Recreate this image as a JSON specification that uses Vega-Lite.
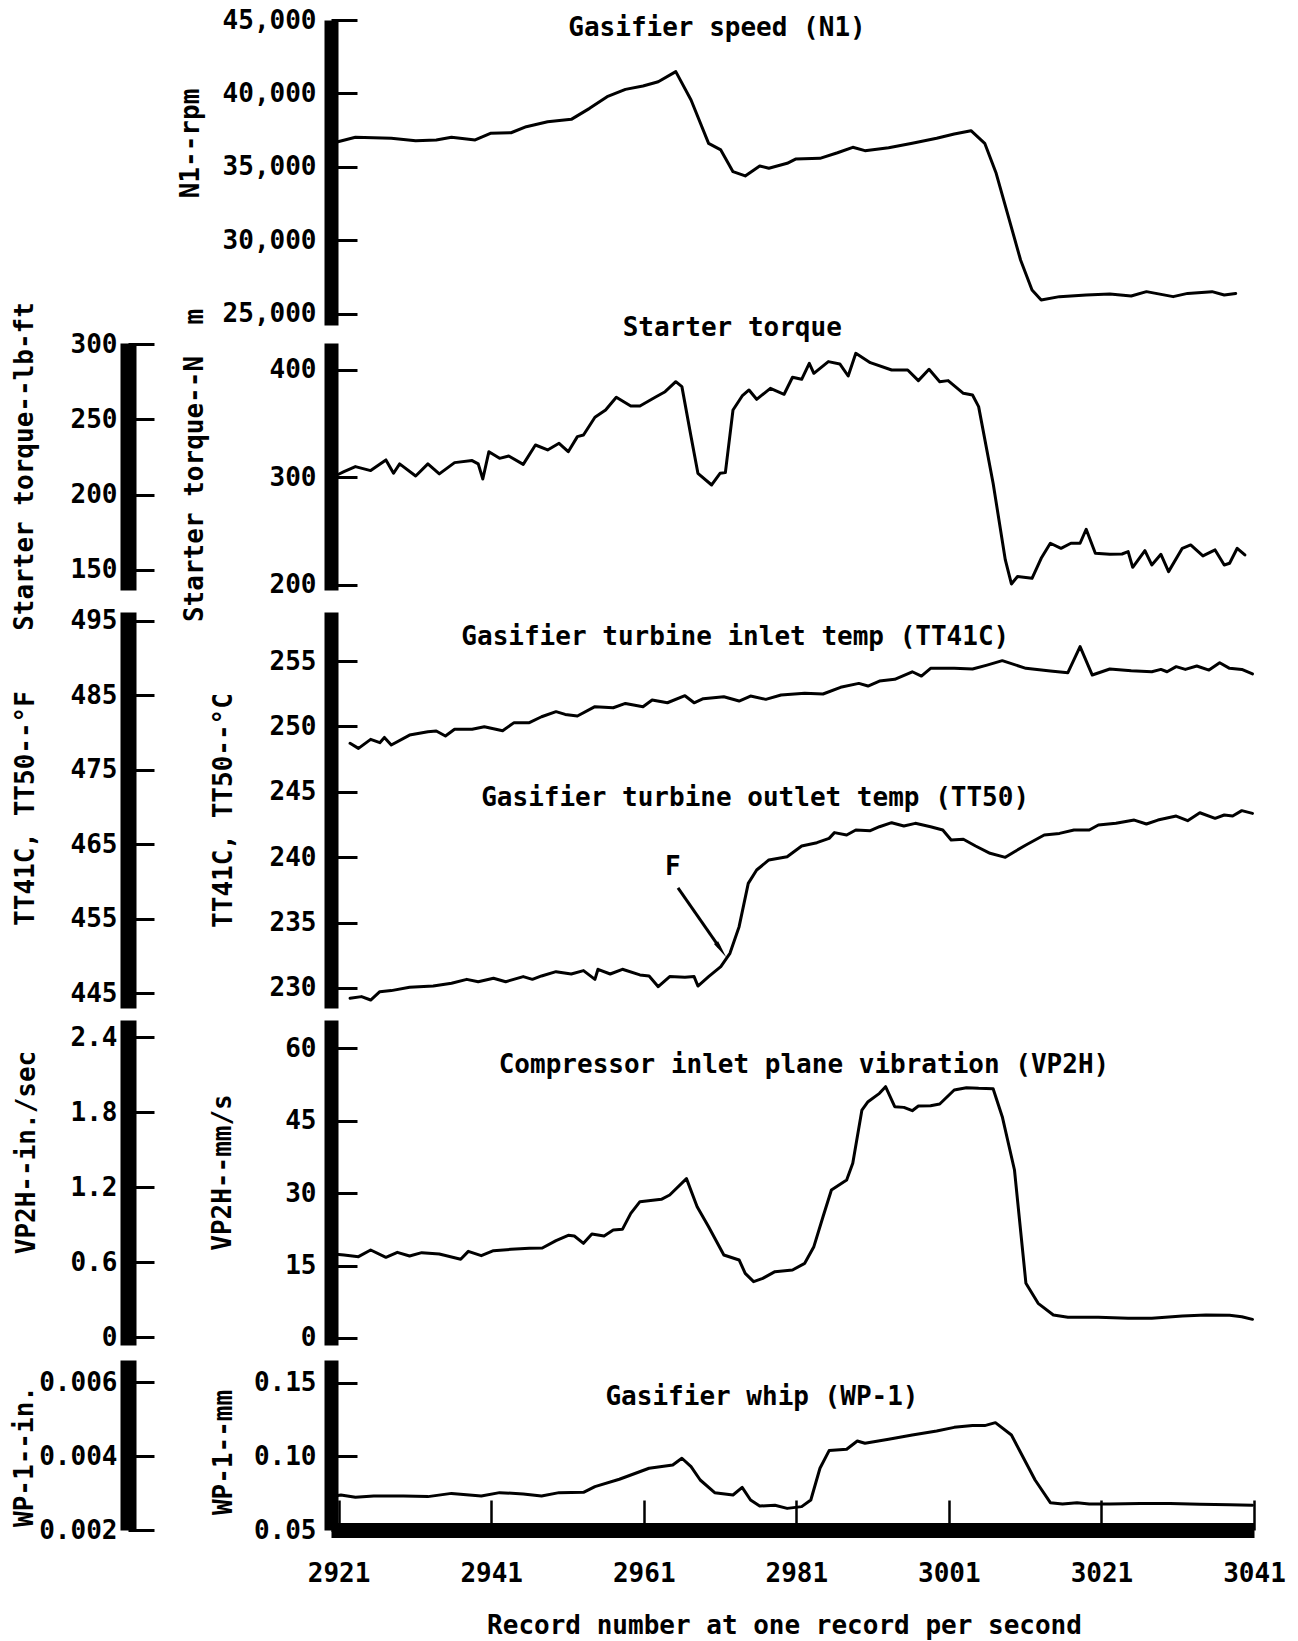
{
  "$schema": "https://vega.github.io/schema/vega-lite/v6.json",
  "width": 923,
  "height": 1510,
  "autosize": {"type": "none"},
  "padding": {"left": 331, "top": 20, "right": 44, "bottom": 111},
  "background": "white",
  "config": {
    "view": {"stroke": null},
    "font": "DejaVu Sans Mono",
    "line": {"color": "black", "strokeWidth": 3, "strokeJoin": "round", "strokeCap": "round"},
    "text": {"font": "DejaVu Sans Mono", "fontSize": 26, "fontWeight": "bold", "color": "black", "align": "center", "baseline": "middle"},
    "axis": {
      "grid": false, "domainColor": "black", "tickColor": "black",
      "labelColor": "black", "titleColor": "black",
      "labelFont": "DejaVu Sans Mono", "titleFont": "DejaVu Sans Mono",
      "labelFontSize": 26, "titleFontSize": 26,
      "labelFontWeight": "bold", "titleFontWeight": "bold",
      "labelOverlap": false, "labelFlush": false, "labelBound": false
    },
    "axisY": {"domainWidth": 14, "tickSize": -26, "tickWidth": 3, "labelPadding": 41,
              "titleAngle": 270, "titleAlign": "center", "titleBaseline": "middle"},
    "axisX": {"domainWidth": 15, "tickSize": -30, "tickWidth": 2.5, "labelPadding": 73,
              "labelBaseline": "middle", "titleAngle": 0, "titleAlign": "center", "titleBaseline": "middle"}
  },
  "datasets": {
    "n1": [
      {"rec": 2920.9, "rpm": 36720}, {"rec": 2923.2, "rpm": 37020}, {"rec": 2927.9, "rpm": 36950},
      {"rec": 2931.1, "rpm": 36790}, {"rec": 2933.8, "rpm": 36840}, {"rec": 2935.8, "rpm": 37020},
      {"rec": 2938.9, "rpm": 36840}, {"rec": 2940.9, "rpm": 37290}, {"rec": 2943.6, "rpm": 37330},
      {"rec": 2945.6, "rpm": 37740}, {"rec": 2948.4, "rpm": 38080}, {"rec": 2951.5, "rpm": 38240},
      {"rec": 2953.9, "rpm": 38990}, {"rec": 2956.2, "rpm": 39780}, {"rec": 2958.6, "rpm": 40280},
      {"rec": 2960.9, "rpm": 40510}, {"rec": 2962.9, "rpm": 40800}, {"rec": 2965.2, "rpm": 41490},
      {"rec": 2967.2, "rpm": 39560}, {"rec": 2969.5, "rpm": 36610}, {"rec": 2971.1, "rpm": 36160},
      {"rec": 2972.7, "rpm": 34680}, {"rec": 2974.3, "rpm": 34390}, {"rec": 2976.2, "rpm": 35070},
      {"rec": 2977.4, "rpm": 34910}, {"rec": 2979.8, "rpm": 35250}, {"rec": 2980.9, "rpm": 35540},
      {"rec": 2984.1, "rpm": 35590}, {"rec": 2986.4, "rpm": 35970}, {"rec": 2988.4, "rpm": 36340},
      {"rec": 2990.0, "rpm": 36110}, {"rec": 2993.1, "rpm": 36310}, {"rec": 2996.2, "rpm": 36610},
      {"rec": 2999.4, "rpm": 36950}, {"rec": 3001.7, "rpm": 37240}, {"rec": 3003.9, "rpm": 37470},
      {"rec": 3005.7, "rpm": 36610}, {"rec": 3007.2, "rpm": 34570}, {"rec": 3008.8, "rpm": 31620},
      {"rec": 3010.4, "rpm": 28670}, {"rec": 3011.9, "rpm": 26630}, {"rec": 3013.1, "rpm": 25950},
      {"rec": 3015.5, "rpm": 26180}, {"rec": 3019.0, "rpm": 26290}, {"rec": 3022.1, "rpm": 26360},
      {"rec": 3024.9, "rpm": 26220}, {"rec": 3026.9, "rpm": 26520}, {"rec": 3030.4, "rpm": 26180},
      {"rec": 3032.3, "rpm": 26400}, {"rec": 3035.5, "rpm": 26520}, {"rec": 3037.1, "rpm": 26290},
      {"rec": 3038.6, "rpm": 26400}
    ],
    "torque": [
      {"rec": 2921.0, "nm": 303.0}, {"rec": 2921.7, "nm": 305.4}, {"rec": 2923.2, "nm": 310.1}, {"rec": 2925.2, "nm": 306.4},
      {"rec": 2927.2, "nm": 316.3}, {"rec": 2928.2, "nm": 303.9}, {"rec": 2929.0, "nm": 312.6}, {"rec": 2931.1, "nm": 301.4},
      {"rec": 2932.7, "nm": 312.6}, {"rec": 2934.2, "nm": 303.3}, {"rec": 2936.2, "nm": 313.8}, {"rec": 2938.5, "nm": 315.7},
      {"rec": 2939.3, "nm": 312.6}, {"rec": 2939.9, "nm": 298.6}, {"rec": 2940.7, "nm": 324.0}, {"rec": 2942.1, "nm": 317.8},
      {"rec": 2943.3, "nm": 320.0}, {"rec": 2945.2, "nm": 312.2}, {"rec": 2946.8, "nm": 330.2}, {"rec": 2948.4, "nm": 325.6},
      {"rec": 2949.9, "nm": 331.8}, {"rec": 2951.1, "nm": 324.0}, {"rec": 2952.3, "nm": 338.0}, {"rec": 2953.1, "nm": 339.5},
      {"rec": 2954.6, "nm": 356.0}, {"rec": 2956.0, "nm": 362.8}, {"rec": 2957.4, "nm": 374.6}, {"rec": 2959.3, "nm": 366.5},
      {"rec": 2960.5, "nm": 366.5}, {"rec": 2962.5, "nm": 374.6}, {"rec": 2963.8, "nm": 379.8}, {"rec": 2965.2, "nm": 389.1},
      {"rec": 2966.0, "nm": 384.5}, {"rec": 2967.2, "nm": 338.0}, {"rec": 2968.1, "nm": 303.9}, {"rec": 2969.9, "nm": 293.0},
      {"rec": 2971.0, "nm": 303.9}, {"rec": 2971.7, "nm": 304.5}, {"rec": 2972.7, "nm": 362.8}, {"rec": 2973.9, "nm": 375.8},
      {"rec": 2974.8, "nm": 381.4}, {"rec": 2975.8, "nm": 372.7}, {"rec": 2977.6, "nm": 382.9}, {"rec": 2979.4, "nm": 377.4},
      {"rec": 2980.5, "nm": 393.2}, {"rec": 2981.7, "nm": 391.3}, {"rec": 2982.7, "nm": 406.2}, {"rec": 2983.3, "nm": 396.9},
      {"rec": 2985.2, "nm": 407.8}, {"rec": 2986.7, "nm": 405.6}, {"rec": 2987.8, "nm": 394.4}, {"rec": 2988.8, "nm": 415.5},
      {"rec": 2990.7, "nm": 406.8}, {"rec": 2993.5, "nm": 400.0}, {"rec": 2995.6, "nm": 400.0}, {"rec": 2997.0, "nm": 390.1},
      {"rec": 2998.4, "nm": 400.6}, {"rec": 2999.8, "nm": 389.1}, {"rec": 3000.9, "nm": 390.1}, {"rec": 3002.9, "nm": 378.3},
      {"rec": 3004.1, "nm": 376.7}, {"rec": 3004.9, "nm": 365.9}, {"rec": 3006.8, "nm": 294.6}, {"rec": 3008.4, "nm": 223.3},
      {"rec": 3009.2, "nm": 200.9}, {"rec": 3010.0, "nm": 207.8}, {"rec": 3011.9, "nm": 206.2}, {"rec": 3013.1, "nm": 224.8},
      {"rec": 3014.3, "nm": 238.8}, {"rec": 3015.7, "nm": 234.1}, {"rec": 3017.0, "nm": 238.8}, {"rec": 3018.2, "nm": 238.8},
      {"rec": 3019.0, "nm": 251.8}, {"rec": 3020.2, "nm": 229.5}, {"rec": 3022.1, "nm": 228.5}, {"rec": 3023.7, "nm": 228.8},
      {"rec": 3024.5, "nm": 231.0}, {"rec": 3025.1, "nm": 216.4}, {"rec": 3026.7, "nm": 231.9}, {"rec": 3027.6, "nm": 218.6},
      {"rec": 3028.8, "nm": 228.5}, {"rec": 3029.8, "nm": 212.4}, {"rec": 3031.6, "nm": 234.1}, {"rec": 3032.7, "nm": 237.2},
      {"rec": 3034.3, "nm": 227.0}, {"rec": 3035.9, "nm": 232.6}, {"rec": 3037.1, "nm": 218.6}, {"rec": 3037.8, "nm": 220.2},
      {"rec": 3038.8, "nm": 234.1}, {"rec": 3039.8, "nm": 227.9}
    ],
    "temps": [
      {"rec": 2922.5, "s": "TT41C", "c": 248.71}, {"rec": 2923.6, "s": "TT41C", "c": 248.32}, {"rec": 2925.2, "s": "TT41C", "c": 249.01},
      {"rec": 2926.4, "s": "TT41C", "c": 248.76}, {"rec": 2927.0, "s": "TT41C", "c": 249.16}, {"rec": 2927.9, "s": "TT41C", "c": 248.58},
      {"rec": 2930.3, "s": "TT41C", "c": 249.34}, {"rec": 2932.7, "s": "TT41C", "c": 249.60}, {"rec": 2933.8, "s": "TT41C", "c": 249.65},
      {"rec": 2935.0, "s": "TT41C", "c": 249.27}, {"rec": 2936.2, "s": "TT41C", "c": 249.78}, {"rec": 2938.5, "s": "TT41C", "c": 249.78},
      {"rec": 2940.1, "s": "TT41C", "c": 249.98}, {"rec": 2942.5, "s": "TT41C", "c": 249.67}, {"rec": 2944.0, "s": "TT41C", "c": 250.29},
      {"rec": 2946.0, "s": "TT41C", "c": 250.29}, {"rec": 2947.6, "s": "TT41C", "c": 250.74}, {"rec": 2949.5, "s": "TT41C", "c": 251.13},
      {"rec": 2950.7, "s": "TT41C", "c": 250.92}, {"rec": 2952.3, "s": "TT41C", "c": 250.80}, {"rec": 2954.6, "s": "TT41C", "c": 251.51},
      {"rec": 2957.0, "s": "TT41C", "c": 251.43}, {"rec": 2958.6, "s": "TT41C", "c": 251.76}, {"rec": 2960.9, "s": "TT41C", "c": 251.51},
      {"rec": 2962.1, "s": "TT41C", "c": 252.02}, {"rec": 2964.1, "s": "TT41C", "c": 251.81}, {"rec": 2966.4, "s": "TT41C", "c": 252.35},
      {"rec": 2967.6, "s": "TT41C", "c": 251.81}, {"rec": 2968.8, "s": "TT41C", "c": 252.12}, {"rec": 2971.5, "s": "TT41C", "c": 252.27},
      {"rec": 2973.5, "s": "TT41C", "c": 251.94}, {"rec": 2975.0, "s": "TT41C", "c": 252.32}, {"rec": 2977.0, "s": "TT41C", "c": 252.07},
      {"rec": 2979.0, "s": "TT41C", "c": 252.40}, {"rec": 2982.1, "s": "TT41C", "c": 252.53}, {"rec": 2984.5, "s": "TT41C", "c": 252.48},
      {"rec": 2986.8, "s": "TT41C", "c": 252.99}, {"rec": 2989.2, "s": "TT41C", "c": 253.29}, {"rec": 2990.4, "s": "TT41C", "c": 253.09},
      {"rec": 2991.9, "s": "TT41C", "c": 253.47}, {"rec": 2993.9, "s": "TT41C", "c": 253.60}, {"rec": 2996.2, "s": "TT41C", "c": 254.18},
      {"rec": 2997.4, "s": "TT41C", "c": 253.85}, {"rec": 2998.6, "s": "TT41C", "c": 254.44}, {"rec": 3001.7, "s": "TT41C", "c": 254.44},
      {"rec": 3004.1, "s": "TT41C", "c": 254.39}, {"rec": 3006.0, "s": "TT41C", "c": 254.69}, {"rec": 3008.0, "s": "TT41C", "c": 255.03},
      {"rec": 3011.1, "s": "TT41C", "c": 254.44}, {"rec": 3014.3, "s": "TT41C", "c": 254.24}, {"rec": 3016.6, "s": "TT41C", "c": 254.11},
      {"rec": 3018.2, "s": "TT41C", "c": 256.10}, {"rec": 3019.8, "s": "TT41C", "c": 253.93}, {"rec": 3022.1, "s": "TT41C", "c": 254.39},
      {"rec": 3024.9, "s": "TT41C", "c": 254.26}, {"rec": 3027.6, "s": "TT41C", "c": 254.18}, {"rec": 3028.8, "s": "TT41C", "c": 254.36},
      {"rec": 3029.6, "s": "TT41C", "c": 254.18}, {"rec": 3030.8, "s": "TT41C", "c": 254.57}, {"rec": 3032.0, "s": "TT41C", "c": 254.36},
      {"rec": 3033.5, "s": "TT41C", "c": 254.62}, {"rec": 3035.1, "s": "TT41C", "c": 254.31}, {"rec": 3036.5, "s": "TT41C", "c": 254.87},
      {"rec": 3037.8, "s": "TT41C", "c": 254.44}, {"rec": 3039.4, "s": "TT41C", "c": 254.36}, {"rec": 3040.8, "s": "TT41C", "c": 254.01},
      {"rec": 2922.5, "s": "TT50", "c": 229.21}, {"rec": 2924.0, "s": "TT50", "c": 229.34}, {"rec": 2925.2, "s": "TT50", "c": 229.08},
      {"rec": 2926.4, "s": "TT50", "c": 229.72}, {"rec": 2927.9, "s": "TT50", "c": 229.80}, {"rec": 2930.3, "s": "TT50", "c": 230.05},
      {"rec": 2933.4, "s": "TT50", "c": 230.15}, {"rec": 2935.8, "s": "TT50", "c": 230.36}, {"rec": 2937.8, "s": "TT50", "c": 230.66},
      {"rec": 2939.3, "s": "TT50", "c": 230.48}, {"rec": 2941.3, "s": "TT50", "c": 230.74}, {"rec": 2942.9, "s": "TT50", "c": 230.48},
      {"rec": 2945.2, "s": "TT50", "c": 230.87}, {"rec": 2946.4, "s": "TT50", "c": 230.66}, {"rec": 2947.6, "s": "TT50", "c": 230.92},
      {"rec": 2949.5, "s": "TT50", "c": 231.25}, {"rec": 2951.5, "s": "TT50", "c": 231.07}, {"rec": 2953.1, "s": "TT50", "c": 231.33},
      {"rec": 2954.6, "s": "TT50", "c": 230.66}, {"rec": 2955.0, "s": "TT50", "c": 231.43}, {"rec": 2956.6, "s": "TT50", "c": 231.07},
      {"rec": 2958.2, "s": "TT50", "c": 231.43}, {"rec": 2960.5, "s": "TT50", "c": 231.00}, {"rec": 2961.7, "s": "TT50", "c": 230.92},
      {"rec": 2962.9, "s": "TT50", "c": 230.10}, {"rec": 2964.4, "s": "TT50", "c": 230.87}, {"rec": 2966.4, "s": "TT50", "c": 230.82},
      {"rec": 2967.6, "s": "TT50", "c": 230.87}, {"rec": 2968.1, "s": "TT50", "c": 230.15}, {"rec": 2969.5, "s": "TT50", "c": 230.87},
      {"rec": 2971.1, "s": "TT50", "c": 231.63}, {"rec": 2972.3, "s": "TT50", "c": 232.65}, {"rec": 2973.5, "s": "TT50", "c": 234.69},
      {"rec": 2974.7, "s": "TT50", "c": 238.00}, {"rec": 2975.8, "s": "TT50", "c": 239.02}, {"rec": 2977.4, "s": "TT50", "c": 239.79},
      {"rec": 2979.8, "s": "TT50", "c": 240.04}, {"rec": 2981.7, "s": "TT50", "c": 240.86}, {"rec": 2983.7, "s": "TT50", "c": 241.11},
      {"rec": 2985.3, "s": "TT50", "c": 241.44}, {"rec": 2986.0, "s": "TT50", "c": 241.88}, {"rec": 2987.6, "s": "TT50", "c": 241.70},
      {"rec": 2988.8, "s": "TT50", "c": 242.08}, {"rec": 2990.7, "s": "TT50", "c": 242.03}, {"rec": 2991.9, "s": "TT50", "c": 242.33},
      {"rec": 2993.5, "s": "TT50", "c": 242.64}, {"rec": 2995.1, "s": "TT50", "c": 242.39}, {"rec": 2996.6, "s": "TT50", "c": 242.59},
      {"rec": 2998.6, "s": "TT50", "c": 242.33}, {"rec": 3000.2, "s": "TT50", "c": 242.08}, {"rec": 3001.3, "s": "TT50", "c": 241.32},
      {"rec": 3002.9, "s": "TT50", "c": 241.37}, {"rec": 3004.5, "s": "TT50", "c": 240.86}, {"rec": 3006.4, "s": "TT50", "c": 240.30},
      {"rec": 3008.4, "s": "TT50", "c": 239.99}, {"rec": 3009.6, "s": "TT50", "c": 240.42}, {"rec": 3011.1, "s": "TT50", "c": 240.93},
      {"rec": 3013.5, "s": "TT50", "c": 241.70}, {"rec": 3015.5, "s": "TT50", "c": 241.82}, {"rec": 3017.4, "s": "TT50", "c": 242.08},
      {"rec": 3019.4, "s": "TT50", "c": 242.08}, {"rec": 3020.6, "s": "TT50", "c": 242.46}, {"rec": 3022.9, "s": "TT50", "c": 242.59},
      {"rec": 3025.3, "s": "TT50", "c": 242.84}, {"rec": 3026.9, "s": "TT50", "c": 242.54}, {"rec": 3028.4, "s": "TT50", "c": 242.84},
      {"rec": 3030.8, "s": "TT50", "c": 243.15}, {"rec": 3032.3, "s": "TT50", "c": 242.79}, {"rec": 3033.9, "s": "TT50", "c": 243.40},
      {"rec": 3035.9, "s": "TT50", "c": 242.97}, {"rec": 3037.1, "s": "TT50", "c": 243.23}, {"rec": 3038.2, "s": "TT50", "c": 243.15},
      {"rec": 3039.4, "s": "TT50", "c": 243.56}, {"rec": 3040.8, "s": "TT50", "c": 243.35}
    ],
    "vp2h": [
      {"rec": 2921.0, "mms": 17.3}, {"rec": 2921.7, "mms": 17.17}, {"rec": 2923.6, "mms": 16.83}, {"rec": 2925.2, "mms": 18.21},
      {"rec": 2927.2, "mms": 16.69}, {"rec": 2928.7, "mms": 17.72}, {"rec": 2930.3, "mms": 16.97}, {"rec": 2931.9, "mms": 17.66},
      {"rec": 2934.2, "mms": 17.38}, {"rec": 2937.0, "mms": 16.28}, {"rec": 2938.0, "mms": 17.93}, {"rec": 2939.7, "mms": 17.03},
      {"rec": 2941.3, "mms": 18.07}, {"rec": 2943.6, "mms": 18.34}, {"rec": 2946.0, "mms": 18.55}, {"rec": 2947.7, "mms": 18.62},
      {"rec": 2949.5, "mms": 20.14}, {"rec": 2951.1, "mms": 21.24}, {"rec": 2951.9, "mms": 21.10}, {"rec": 2953.1, "mms": 19.59},
      {"rec": 2954.2, "mms": 21.52}, {"rec": 2955.8, "mms": 21.10}, {"rec": 2957.0, "mms": 22.34}, {"rec": 2958.2, "mms": 22.48},
      {"rec": 2959.3, "mms": 25.79}, {"rec": 2960.5, "mms": 28.21}, {"rec": 2963.3, "mms": 28.69}, {"rec": 2964.4, "mms": 29.59},
      {"rec": 2966.6, "mms": 32.97}, {"rec": 2968.0, "mms": 27.17}, {"rec": 2969.5, "mms": 23.03}, {"rec": 2971.5, "mms": 17.17},
      {"rec": 2973.5, "mms": 16.14}, {"rec": 2974.3, "mms": 13.38}, {"rec": 2975.4, "mms": 11.66}, {"rec": 2976.6, "mms": 12.34},
      {"rec": 2978.2, "mms": 13.72}, {"rec": 2980.5, "mms": 14.07}, {"rec": 2982.1, "mms": 15.45}, {"rec": 2983.3, "mms": 18.90},
      {"rec": 2984.5, "mms": 25.10}, {"rec": 2985.6, "mms": 30.62}, {"rec": 2987.6, "mms": 32.69}, {"rec": 2988.4, "mms": 36.14},
      {"rec": 2989.6, "mms": 47.17}, {"rec": 2990.4, "mms": 48.90}, {"rec": 2991.9, "mms": 50.62}, {"rec": 2992.7, "mms": 52.00},
      {"rec": 2993.9, "mms": 47.86}, {"rec": 2995.1, "mms": 47.72}, {"rec": 2996.2, "mms": 47.03}, {"rec": 2997.0, "mms": 48.00},
      {"rec": 2998.6, "mms": 48.07}, {"rec": 2999.8, "mms": 48.41}, {"rec": 3001.7, "mms": 51.31}, {"rec": 3003.3, "mms": 51.79},
      {"rec": 3004.9, "mms": 51.66}, {"rec": 3006.8, "mms": 51.59}, {"rec": 3008.0, "mms": 45.79}, {"rec": 3009.6, "mms": 34.76},
      {"rec": 3011.1, "mms": 11.31}, {"rec": 3012.7, "mms": 7.17}, {"rec": 3014.7, "mms": 4.76}, {"rec": 3016.6, "mms": 4.28},
      {"rec": 3020.6, "mms": 4.28}, {"rec": 3024.5, "mms": 4.07}, {"rec": 3027.6, "mms": 4.07}, {"rec": 3031.6, "mms": 4.55},
      {"rec": 3034.7, "mms": 4.76}, {"rec": 3037.8, "mms": 4.69}, {"rec": 3039.4, "mms": 4.41}, {"rec": 3040.8, "mms": 3.86}
    ],
    "wp1": [
      {"rec": 2920.9, "mm": 0.0735}, {"rec": 2921.3, "mm": 0.0738}, {"rec": 2923.2, "mm": 0.0722}, {"rec": 2925.6, "mm": 0.0731},
      {"rec": 2929.5, "mm": 0.0731}, {"rec": 2932.7, "mm": 0.0727}, {"rec": 2935.8, "mm": 0.0749}, {"rec": 2939.7, "mm": 0.0731},
      {"rec": 2942.1, "mm": 0.0754}, {"rec": 2945.2, "mm": 0.0745}, {"rec": 2947.6, "mm": 0.0731}, {"rec": 2949.9, "mm": 0.0754},
      {"rec": 2953.1, "mm": 0.0756}, {"rec": 2954.6, "mm": 0.0795}, {"rec": 2957.8, "mm": 0.0845}, {"rec": 2961.7, "mm": 0.0920},
      {"rec": 2964.8, "mm": 0.0942}, {"rec": 2966.0, "mm": 0.0988}, {"rec": 2967.2, "mm": 0.0931}, {"rec": 2968.4, "mm": 0.0840},
      {"rec": 2970.3, "mm": 0.0754}, {"rec": 2972.7, "mm": 0.0738}, {"rec": 2973.9, "mm": 0.0790}, {"rec": 2975.0, "mm": 0.0704},
      {"rec": 2976.2, "mm": 0.0663}, {"rec": 2978.2, "mm": 0.0668}, {"rec": 2979.8, "mm": 0.0647}, {"rec": 2981.7, "mm": 0.0659},
      {"rec": 2982.9, "mm": 0.0704}, {"rec": 2984.1, "mm": 0.0920}, {"rec": 2985.3, "mm": 0.1040}, {"rec": 2987.6, "mm": 0.1049},
      {"rec": 2989.0, "mm": 0.1105}, {"rec": 2990.0, "mm": 0.1090}, {"rec": 2993.1, "mm": 0.1117}, {"rec": 2996.2, "mm": 0.1146},
      {"rec": 2999.4, "mm": 0.1173}, {"rec": 3001.7, "mm": 0.1198}, {"rec": 3004.1, "mm": 0.1210}, {"rec": 3005.7, "mm": 0.1210},
      {"rec": 3007.1, "mm": 0.1230}, {"rec": 3009.2, "mm": 0.1146}, {"rec": 3010.8, "mm": 0.0988}, {"rec": 3012.3, "mm": 0.0840},
      {"rec": 3014.3, "mm": 0.0686}, {"rec": 3015.9, "mm": 0.0677}, {"rec": 3017.8, "mm": 0.0686}, {"rec": 3019.4, "mm": 0.0677},
      {"rec": 3022.1, "mm": 0.0677}, {"rec": 3026.1, "mm": 0.0681}, {"rec": 3030.0, "mm": 0.0681}, {"rec": 3033.9, "mm": 0.0675},
      {"rec": 3037.8, "mm": 0.0672}, {"rec": 3040.8, "mm": 0.0668}
    ],
    "one": [{}]
  },
  "resolve": {"scale": {"y": "independent"}, "axis": {"y": "independent"}},
  "layer": [
    {
      "data": {"name": "n1"},
      "mark": {"type": "line"},
      "encoding": {
        "x": {"field": "rec", "type": "quantitative", "scale": {"domain": [2920, 3041], "nice": false, "zero": false},
              "axis": {"orient": "bottom", "values": [2921, 2941, 2961, 2981, 3001, 3021, 3041], "format": "d", "title": "Record number at one record per second", "titleX": 453, "titleY": 95}},
        "y": {"field": "rpm", "type": "quantitative",
              "scale": {"domain": [24250, 45000], "range": [305, 0], "nice": false, "zero": false},
              "axis": {"orient": "left", "values": [25000, 30000, 35000, 40000, 45000], "format": ",d",
                       "title": "N1--rpm", "titleX": -141, "titleY": 123}}
      }
    },
    {
      "data": {"name": "one"},
      "mark": {"type": "text"},
      "encoding": {
        "x": {"datum": 2970.6, "type": "quantitative", "scale": {"domain": [2920, 3041], "nice": false, "zero": false},
              "axis": {"orient": "bottom", "values": [2921, 2941, 2961, 2981, 3001, 3021, 3041], "format": "d", "title": "Record number at one record per second", "titleX": 453, "titleY": 95}},
        "y": {"datum": 44456, "type": "quantitative", "scale": {"domain": [24250, 45000], "range": [305, 0], "nice": false, "zero": false}, "axis": null},
        "text": {"value": "Gasifier speed (N1)"}
      }
    },
    {
      "data": {"name": "torque"},
      "mark": {"type": "line"},
      "encoding": {
        "x": {"field": "rec", "type": "quantitative", "scale": {"domain": [2920, 3041], "nice": false, "zero": false},
              "axis": {"orient": "bottom", "values": [2921, 2941, 2961, 2981, 3001, 3021, 3041], "format": "d", "title": "Record number at one record per second", "titleX": 453, "titleY": 95}},
        "y": {"field": "nm", "type": "quantitative",
              "scale": {"domain": [195.3, 425.1], "range": [570, 323], "nice": false, "zero": false},
              "axis": {"orient": "left", "values": [200, 300, 400], "format": "d",
                       "title": "Starter torque--N\u00a0\u00a0m", "titleX": -137, "titleY": 445}}
      }
    },
    {
      "data": {"name": "one"},
      "mark": {"type": "text"},
      "encoding": {
        "x": {"datum": 2972.6, "type": "quantitative", "scale": {"domain": [2920, 3041], "nice": false, "zero": false},
              "axis": {"orient": "bottom", "values": [2921, 2941, 2961, 2981, 3001, 3021, 3041], "format": "d", "title": "Record number at one record per second", "titleX": 453, "titleY": 95}},
        "y": {"datum": 439.1, "type": "quantitative", "scale": {"domain": [195.3, 425.1], "range": [570, 323], "nice": false, "zero": false}, "axis": null},
        "text": {"value": "Starter torque"}
      }
    },
    {
      "data": {"values": [{"lbft": 150}, {"lbft": 300}]},
      "mark": {"type": "point", "opacity": 0},
      "encoding": {
        "y": {"field": "lbft", "type": "quantitative",
              "scale": {"domain": [136.7, 300.7], "range": [570, 323], "nice": false, "zero": false},
              "axis": {"orient": "left", "offset": 203, "values": [150, 200, 250, 300], "format": "d",
                       "labelPadding": 37, "domainWidth": 16,
                       "title": "Starter torque--lb-ft", "titleX": -104, "titleY": 446}}
      }
    },
    {
      "data": {"name": "temps"},
      "mark": {"type": "line"},
      "encoding": {
        "x": {"field": "rec", "type": "quantitative", "scale": {"domain": [2920, 3041], "nice": false, "zero": false},
              "axis": {"orient": "bottom", "values": [2921, 2941, 2961, 2981, 3001, 3021, 3041], "format": "d", "title": "Record number at one record per second", "titleX": 453, "titleY": 95}},
        "y": {"field": "c", "type": "quantitative",
              "scale": {"domain": [228.47, 258.75], "range": [988, 592], "nice": false, "zero": false},
              "axis": {"orient": "left", "values": [230, 235, 240, 245, 250, 255], "format": "d",
                       "title": "TT41C, TT50--°C", "titleX": -108, "titleY": 790}},
        "detail": {"field": "s", "type": "nominal"}
      }
    },
    {
      "data": {"name": "one"},
      "mark": {"type": "text"},
      "encoding": {
        "x": {"datum": 2973.0, "type": "quantitative", "scale": {"domain": [2920, 3041], "nice": false, "zero": false},
              "axis": {"orient": "bottom", "values": [2921, 2941, 2961, 2981, 3001, 3021, 3041], "format": "d", "title": "Record number at one record per second", "titleX": 453, "titleY": 95}},
        "y": {"datum": 256.84, "type": "quantitative", "scale": {"domain": [228.47, 258.75], "range": [988, 592], "nice": false, "zero": false}, "axis": null},
        "text": {"value": "Gasifier turbine inlet temp (TT41C)"}
      }
    },
    {
      "data": {"name": "one"},
      "mark": {"type": "text"},
      "encoding": {
        "x": {"datum": 2975.6, "type": "quantitative", "scale": {"domain": [2920, 3041], "nice": false, "zero": false},
              "axis": {"orient": "bottom", "values": [2921, 2941, 2961, 2981, 3001, 3021, 3041], "format": "d", "title": "Record number at one record per second", "titleX": 453, "titleY": 95}},
        "y": {"datum": 244.53, "type": "quantitative", "scale": {"domain": [228.47, 258.75], "range": [988, 592], "nice": false, "zero": false}, "axis": null},
        "text": {"value": "Gasifier turbine outlet temp (TT50)"}
      }
    },
    {
      "data": {"name": "one"},
      "mark": {"type": "text"},
      "encoding": {
        "x": {"datum": 2964.8, "type": "quantitative", "scale": {"domain": [2920, 3041], "nice": false, "zero": false},
              "axis": {"orient": "bottom", "values": [2921, 2941, 2961, 2981, 3001, 3021, 3041], "format": "d", "title": "Record number at one record per second", "titleX": 453, "titleY": 95}},
        "y": {"datum": 239.25, "type": "quantitative", "scale": {"domain": [228.47, 258.75], "range": [988, 592], "nice": false, "zero": false}, "axis": null},
        "text": {"value": "F"}
      }
    },
    {
      "data": {"name": "one"},
      "mark": {"type": "rule", "color": "black", "strokeWidth": 3},
      "encoding": {
        "x": {"datum": 2965.49, "type": "quantitative", "scale": {"domain": [2920, 3041], "nice": false, "zero": false},
              "axis": {"orient": "bottom", "values": [2921, 2941, 2961, 2981, 3001, 3021, 3041], "format": "d", "title": "Record number at one record per second", "titleX": 453, "titleY": 95}},
        "y": {"datum": 237.65, "type": "quantitative", "scale": {"domain": [228.47, 258.75], "range": [988, 592], "nice": false, "zero": false}, "axis": null},
        "x2": {"datum": 2970.92},
        "y2": {"datum": 233.1}
      }
    },
    {
      "data": {"name": "one"},
      "mark": {"type": "point", "shape": "wedge", "filled": true, "color": "black", "opacity": 1, "size": 420, "angle": 145},
      "encoding": {
        "x": {"datum": 2970.92, "type": "quantitative", "scale": {"domain": [2920, 3041], "nice": false, "zero": false},
              "axis": {"orient": "bottom", "values": [2921, 2941, 2961, 2981, 3001, 3021, 3041], "format": "d", "title": "Record number at one record per second", "titleX": 453, "titleY": 95}},
        "y": {"datum": 233.1, "type": "quantitative", "scale": {"domain": [228.47, 258.75], "range": [988, 592], "nice": false, "zero": false}, "axis": null}
      }
    },
    {
      "data": {"values": [{"f": 445}, {"f": 495}]},
      "mark": {"type": "point", "opacity": 0},
      "encoding": {
        "y": {"field": "f", "type": "quantitative",
              "scale": {"domain": [443.0, 496.2], "range": [988, 592], "nice": false, "zero": false},
              "axis": {"orient": "left", "offset": 203, "values": [445, 455, 465, 475, 485, 495], "format": "d",
                       "labelPadding": 37, "domainWidth": 16,
                       "title": "TT41C, TT50--°F", "titleX": -103, "titleY": 788}}
      }
    },
    {
      "data": {"name": "vp2h"},
      "mark": {"type": "line"},
      "encoding": {
        "x": {"field": "rec", "type": "quantitative", "scale": {"domain": [2920, 3041], "nice": false, "zero": false},
              "axis": {"orient": "bottom", "values": [2921, 2941, 2961, 2981, 3001, 3021, 3041], "format": "d", "title": "Record number at one record per second", "titleX": 453, "titleY": 95}},
        "y": {"field": "mms", "type": "quantitative",
              "scale": {"domain": [-1.45, 65.8], "range": [1325, 1000], "nice": false, "zero": false},
              "axis": {"orient": "left", "values": [0, 15, 30, 45, 60], "format": "d",
                       "title": "VP2H--mm/s", "titleX": -109, "titleY": 1152}}
      }
    },
    {
      "data": {"name": "one"},
      "mark": {"type": "text"},
      "encoding": {
        "x": {"datum": 2982.0, "type": "quantitative", "scale": {"domain": [2920, 3041], "nice": false, "zero": false},
              "axis": {"orient": "bottom", "values": [2921, 2941, 2961, 2981, 3001, 3021, 3041], "format": "d", "title": "Record number at one record per second", "titleX": 453, "titleY": 95}},
        "y": {"datum": 56.49, "type": "quantitative", "scale": {"domain": [-1.45, 65.8], "range": [1325, 1000], "nice": false, "zero": false}, "axis": null},
        "text": {"value": "Compressor inlet plane vibration (VP2H)"}
      }
    },
    {
      "data": {"values": [{"ips": 0}, {"ips": 2.4}]},
      "mark": {"type": "point", "opacity": 0},
      "encoding": {
        "y": {"field": "ips", "type": "quantitative",
              "scale": {"domain": [-0.064, 2.536], "range": [1325, 1000], "nice": false, "zero": false},
              "axis": {"orient": "left", "offset": 203, "values": [0, 0.6, 1.2, 1.8, 2.4],
                       "labelExpr": "datum.value === 0 ? '0' : format(datum.value, '.1f')",
                       "labelPadding": 37, "domainWidth": 16,
                       "title": "VP2H--in./sec", "titleX": -102, "titleY": 1132}}
      }
    },
    {
      "data": {"name": "wp1"},
      "mark": {"type": "line"},
      "encoding": {
        "x": {"field": "rec", "type": "quantitative", "scale": {"domain": [2920, 3041], "nice": false, "zero": false},
              "axis": {"orient": "bottom", "values": [2921, 2941, 2961, 2981, 3001, 3021, 3041], "format": "d", "title": "Record number at one record per second", "titleX": 453, "titleY": 95}},
        "y": {"field": "mm", "type": "quantitative",
              "scale": {"domain": [0.05, 0.1656], "range": [1510, 1340], "nice": false, "zero": false},
              "axis": {"orient": "left", "values": [0.05, 0.10, 0.15], "format": ".2f",
                       "title": "WP-1--mm", "titleX": -108, "titleY": 1432}}
      }
    },
    {
      "data": {"name": "one"},
      "mark": {"type": "text"},
      "encoding": {
        "x": {"datum": 2976.5, "type": "quantitative", "scale": {"domain": [2920, 3041], "nice": false, "zero": false},
              "axis": {"orient": "bottom", "values": [2921, 2941, 2961, 2981, 3001, 3021, 3041], "format": "d", "title": "Record number at one record per second", "titleX": 453, "titleY": 95}},
        "y": {"datum": 0.1404, "type": "quantitative", "scale": {"domain": [0.05, 0.1656], "range": [1510, 1340], "nice": false, "zero": false}, "axis": null},
        "text": {"value": "Gasifier whip (WP-1)"}
      }
    },
    {
      "data": {"values": [{"inch": 0.002}, {"inch": 0.006}]},
      "mark": {"type": "point", "opacity": 0},
      "encoding": {
        "y": {"field": "inch", "type": "quantitative",
              "scale": {"domain": [0.002, 0.00661], "range": [1510, 1340], "nice": false, "zero": false},
              "axis": {"orient": "left", "offset": 203, "values": [0.002, 0.004, 0.006], "format": ".3f",
                       "labelPadding": 37, "domainWidth": 16,
                       "title": "WP-1--in.", "titleX": -104, "titleY": 1436}}
      }
    }
  ]
}
